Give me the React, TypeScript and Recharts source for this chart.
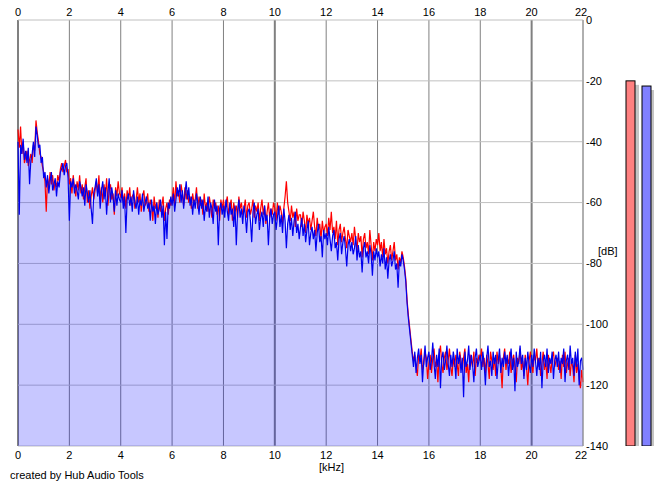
import {
  Area,
  Bar,
  BarChart,
  CartesianGrid,
  Cell,
  ComposedChart,
  Line,
  Text,
  XAxis,
  YAxis,
} from "recharts";

const FONT = "'Liberation Sans', Arial, sans-serif";

// spectrum bins, 0.05 kHz apart, starting at 0 kHz
const FREQ_STEP_KHZ = 0.05;

// left channel (red), dB — one row per kHz
const LEFT_DB = [
  -36, -42, -35, -44, -40, -47, -45, -43, -48, -46, -44, -47, -41, -43, -33, -37, -40, -44, -45, -48,
  -50, -53, -63, -52, -55, -50, -54, -51, -56, -53, -55, -51, -53, -49, -47, -50, -48, -46, -50, -49,
  -54, -52, -57, -51, -55, -58, -53, -56, -51, -57, -54, -59, -55, -52, -60, -56, -62, -58, -55, -59,
  -56, -53, -57, -51, -59, -55, -60, -54, -58, -52, -61, -56, -54, -59, -57, -64, -55, -58, -53, -57,
  -58, -55, -60, -57, -62, -56, -59, -55, -61, -58, -57, -62, -59, -55, -60, -57, -63, -58, -56, -61,
  -60, -57, -63, -59, -61, -66, -58, -62, -60, -65, -59, -63, -61, -58, -66, -62, -60, -64, -59, -61,
  -59, -55, -61, -53, -58, -56, -60, -54, -57, -61, -55, -59, -56, -60, -58, -62, -57, -60, -59, -55,
  -62, -58, -61, -59, -64, -57, -62, -60, -63, -58, -61, -65, -59, -62, -60, -64, -61, -66, -59, -62,
  -59, -63, -60, -58, -64, -61, -59, -66, -60, -63, -61, -65, -58, -62, -60, -64, -62, -59, -65, -61,
  -60, -64, -62, -59, -65, -61, -63, -60, -66, -62, -59, -64, -61, -67, -63, -60, -65, -62, -64, -60,
  -62, -66, -60, -64, -61, -63, -67, -62, -58, -53, -60, -63, -66, -61, -65, -63, -68, -62, -66, -64,
  -64, -68, -63, -66, -70, -64, -67, -65, -69, -66, -63, -68, -71, -65, -69, -67, -72, -66, -70, -68,
  -67, -71, -65, -69, -63, -70, -68, -72, -66, -74, -69, -67, -73, -70, -68, -72, -75, -69, -71, -73,
  -70, -74, -68, -72, -76, -70, -73, -71, -78, -72, -70, -75, -73, -77, -69, -74, -79, -73, -76, -72,
  -74, -70, -76, -73, -78, -72, -77, -75, -80, -76, -74, -79, -76, -73, -79, -77, -82, -78, -80, -76,
  -78, -81, -85, -92, -97, -101, -105, -109, -112, -110, -114, -117, -110, -112, -108, -115, -113, -109, -111, -118,
  -113, -110, -116, -111, -108, -114, -112, -119, -110, -107, -113, -116, -111, -109, -115, -112, -108, -114, -117, -111,
  -114, -110, -113, -117, -109, -112, -115, -111, -108, -116, -113, -119, -110, -112, -114, -109, -117, -111, -113, -110,
  -112, -108, -114, -111, -116, -110, -113, -118, -109, -112, -115, -111, -117, -109, -113, -110, -114, -121, -111, -108,
  -115, -111, -113, -109, -116, -112, -110, -114, -119, -111, -113, -108, -115, -112, -117, -110, -114, -120, -112, -109,
  -113, -116, -110, -112, -108, -114, -111, -117, -113, -109, -115, -112, -118, -110, -113, -116, -111, -109, -114, -112,
  -111, -115, -112, -118, -110, -114, -109, -116, -113, -111, -117, -112, -114, -119, -110, -116, -113, -118, -121, -115,
  -119,
];

// right channel (blue), dB — one row per kHz
const RIGHT_DB = [
  -40, -64, -41, -44, -39, -46, -43, -47, -42, -54, -46, -44, -40, -45, -35, -38, -42, -41, -47, -45,
  -52, -50, -55, -51, -57, -53, -50, -56, -54, -52, -58, -53, -55, -50, -49, -47, -51, -48, -47, -52,
  -66, -53, -55, -52, -57, -54, -56, -59, -53, -55, -58, -55, -61, -54, -57, -60, -56, -62, -67, -57,
  -55, -52, -58, -54, -62, -56, -53, -59, -55, -64, -57, -52, -60, -55, -58, -63, -56, -61, -57, -59,
  -60, -56, -62, -58, -70, -59, -57, -61, -58, -63, -56, -60, -62, -58, -64, -59, -61, -57, -63, -60,
  -58, -62, -60, -66, -59, -63, -61, -67, -60, -64, -62, -59, -65, -61, -74, -63, -72, -60, -62, -58,
  -61, -57, -63, -59, -55, -58, -54, -60, -56, -62, -57, -53, -59, -55, -61, -58, -64, -59, -62, -57,
  -60, -64, -58, -62, -59, -66, -61, -63, -58, -65, -60, -62, -67, -59, -63, -61, -74, -62, -60, -64,
  -61, -65, -59, -63, -66, -60, -64, -62, -68, -61, -74, -63, -59, -65, -62, -67, -61, -64, -70, -63,
  -62, -66, -73, -63, -60, -67, -64, -62, -69, -65, -63, -68, -61, -66, -64, -74, -65, -62, -67, -64,
  -63, -69, -65, -61, -68, -64, -70, -62, -66, -75, -67, -64, -69, -65, -71, -66, -63, -70, -67, -72,
  -68, -65, -71, -67, -73, -69, -66, -74, -70, -68, -72, -69, -76, -70, -67, -73, -71, -78, -69, -72,
  -70, -74, -68, -72, -76, -71, -69, -75, -73, -79, -72, -70, -77, -73, -71, -75, -81, -74, -72, -76,
  -73, -77, -75, -71, -79, -74, -78, -76, -83, -75, -73, -78, -76, -80, -74, -77, -84, -76, -79, -75,
  -78, -76, -81, -77, -80, -75, -82, -78, -85, -79, -77, -81, -79, -76, -82, -80, -88, -79, -81, -77,
  -79, -82, -86, -93, -98, -102, -106, -110, -114, -109, -116, -111, -108, -113, -110, -119, -112, -107, -114, -111,
  -109, -115, -112, -106, -113, -118, -110, -114, -108, -121, -111, -109, -115, -112, -107, -113, -117, -110, -114, -109,
  -112, -118, -108, -113, -110, -116, -111, -124, -109, -114, -112, -107, -115, -110, -113, -119, -111, -108, -114, -112,
  -110, -115, -109, -113, -120, -111, -107, -114, -112, -117, -109, -113, -110, -118, -112, -108, -116, -111, -114, -109,
  -113, -110, -117, -112, -108, -115, -111, -122, -109, -114, -112, -107, -113, -110, -118, -111, -115, -109, -113, -116,
  -110, -114, -108, -112, -117, -111, -115, -109, -121, -112, -110, -114, -108, -116, -111, -113, -109, -118, -112, -110,
  -114, -109, -116, -111, -113, -108, -119, -112, -110, -115, -107, -113, -111, -117, -109, -114, -108, -120, -112, -111,
  -115,
];

const FREQ_TICKS = [0, 2, 4, 6, 8, 10, 12, 14, 16, 18, 20, 22];
const DB_TICKS = [0, -20, -40, -60, -80, -100, -120, -140];

// level meters on the right
const METER_CHANNELS = ["L", "R"];
const METER_PEAK_DB = [-20, -21.7];
const METER_COLORS = ["#ff8080", "#8080ff"];

const spectrum = LEFT_DB.map((left, i) => ({
  f: Math.round(i * FREQ_STEP_KHZ * 100) / 100,
  left,
  right: RIGHT_DB[i],
}));

const meters = METER_CHANNELS.map((ch, i) => ({ ch, range: [-140, METER_PEAK_DB[i]] }));

const tickStyle = { fontSize: 11, fill: "#000", fontFamily: FONT };

// the last kHz label sits a little left so it clears the dB labels
function FreqTick(p: any) {
  const v = p.payload.value;
  return (
    <Text
      x={v === 22 ? p.x - 2 : p.x}
      y={p.y}
      textAnchor="middle"
      verticalAnchor={p.verticalAnchor}
      fontSize={11}
      fontFamily={FONT}
      fill="#000"
    >
      {String(v)}
    </Text>
  );
}

// every 10 kHz the grid line is drawn heavier
function VerticalGridLine(p: any) {
  return (
    <line
      key={p.key}
      x1={p.x1}
      y1={p.y1}
      x2={p.x2}
      y2={p.y2}
      stroke="#808080"
      strokeWidth={p.index % 5 === 0 ? 2 : 1}
    />
  );
}

function MeterBar(p: any) {
  return (
    <g>
      <rect x={p.x + 4} y={p.y + 4} width={p.width} height={p.height} fill="#c4c4c4" />
      <rect x={p.x} y={p.y} width={p.width} height={p.height} fill={p.fill} stroke="#000" strokeWidth={1} />
    </g>
  );
}

const label = (left: number, top: number): React.CSSProperties => ({
  position: "absolute",
  left,
  top,
  fontFamily: FONT,
  fontSize: 11,
  color: "#000",
  whiteSpace: "nowrap",
  lineHeight: "12px",
});

export default function App() {
  return (
    <div style={{ position: "absolute", left: 0, top: 0, width: 665, height: 487, background: "#fff" }}>
      <ComposedChart width={665} height={487} data={spectrum} margin={{ top: 0, right: 52, bottom: 21, left: 18 }}>
        <CartesianGrid horizontal={false} vertical={VerticalGridLine} />
        <CartesianGrid vertical={false} stroke="#c0c0c0" />
        <XAxis
          dataKey="f"
          type="number"
          domain={[0, 22]}
          ticks={FREQ_TICKS}
          height={20}
          tickLine={false}
          axisLine={false}
          tickSize={0}
          tickMargin={5}
          tick={FreqTick}
        />
        <XAxis
          xAxisId="top"
          orientation="top"
          dataKey="f"
          type="number"
          domain={[0, 22]}
          ticks={FREQ_TICKS}
          height={20}
          tickLine={false}
          axisLine={false}
          tickSize={0}
          tickMargin={4}
          tick={FreqTick}
        />
        <YAxis
          orientation="right"
          type="number"
          domain={[-140, 0]}
          ticks={DB_TICKS}
          width={30}
          tickLine={false}
          axisLine={{ stroke: "#a0a0a0" }}
          tickSize={0}
          tickMargin={3}
          tick={{ ...tickStyle, textAnchor: "start" }}
        />
        <Area
          dataKey="right"
          type="linear"
          stroke="none"
          fill="#0000ff"
          fillOpacity={0.22}
          baseValue="dataMin"
          isAnimationActive={false}
        />
        <Line dataKey="left" type="linear" stroke="#ff0000" strokeWidth={1.2} dot={false} isAnimationActive={false} />
        <Line dataKey="right" type="linear" stroke="#0000ee" strokeWidth={1.2} dot={false} isAnimationActive={false} />
      </ComposedChart>

      <div style={{ position: "absolute", left: 622, top: 20 }}>
        <BarChart width={32} height={426} data={meters} margin={{ top: 0, right: 0, bottom: 0, left: 0 }} barCategoryGap={0}>
          <XAxis dataKey="ch" hide />
          <YAxis type="number" domain={[-140, 0]} hide />
          <Bar dataKey="range" barSize={9} shape={MeterBar} isAnimationActive={false}>
            {meters.map((m, i) => (
              <Cell key={m.ch} fill={METER_COLORS[i]} />
            ))}
          </Bar>
        </BarChart>
      </div>

      <div style={label(598, 245)}>[dB]</div>
      <div style={label(319, 461)}>[kHz]</div>
      <div style={label(10, 469)}>created by Hub Audio Tools</div>
    </div>
  );
}
